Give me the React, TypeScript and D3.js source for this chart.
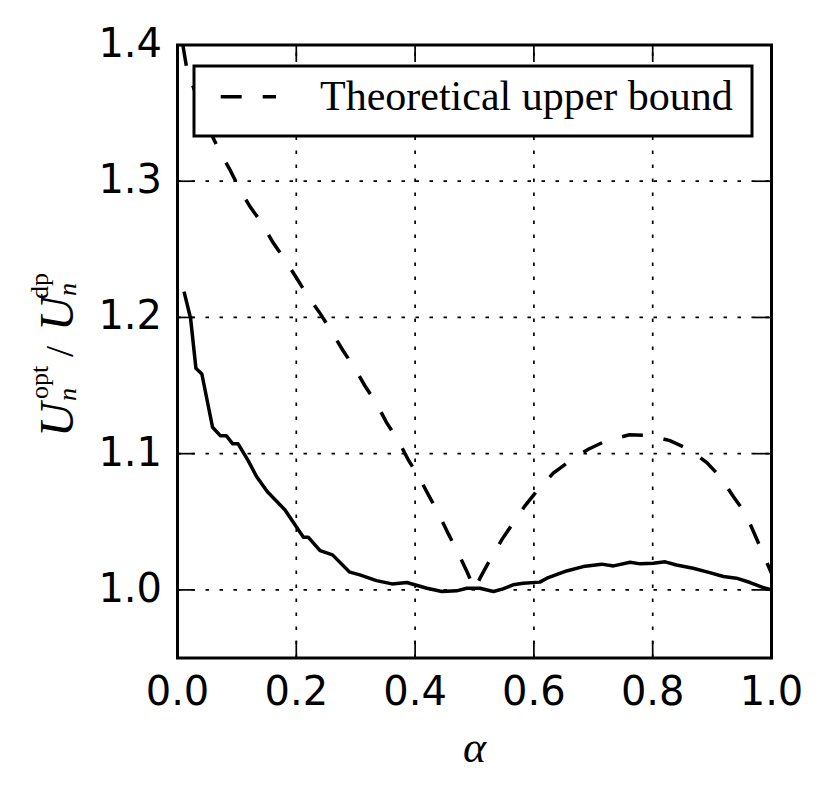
import React from "react";
import * as d3 from "d3";

const W = 832;
const H = 799;

// Measured solid curve: ratio U_opt / U_dp
const solidAlpha = [0.011, 0.022, 0.031, 0.041, 0.059, 0.072, 0.082, 0.093, 0.102, 0.119, 0.133, 0.151, 0.181, 0.212, 0.220, 0.240, 0.261, 0.290, 0.307, 0.335, 0.361, 0.386, 0.420, 0.445, 0.470, 0.487, 0.509, 0.532, 0.548, 0.565, 0.582, 0.610, 0.622, 0.655, 0.683, 0.714, 0.734, 0.762, 0.779, 0.801, 0.821, 0.840, 0.868, 0.896, 0.919, 0.941, 0.964, 0.984, 1.0];
const solidValue = [1.2189, 1.1994, 1.1627, 1.1585, 1.1194, 1.1132, 1.1132, 1.1072, 1.1072, 1.0949, 1.0832, 1.0722, 1.0587, 1.0387, 1.0387, 1.0288, 1.0257, 1.013, 1.011, 1.0068, 1.0044, 1.0054, 1.0012, 0.9988, 0.9993, 1.0012, 1.0012, 0.9988, 1.0007, 1.0037, 1.0049, 1.0057, 1.0086, 1.0139, 1.0171, 1.0189, 1.0176, 1.0203, 1.0191, 1.0196, 1.0206, 1.0183, 1.0159, 1.0127, 1.0098, 1.0086, 1.0054, 1.002, 1.0];

// Theoretical upper bound (dashed)
const boundAlpha = [0.009, 0.0165, 0.0603, 0.0704, 0.0884, 0.104, 0.122, 0.1418, 0.160, 0.181, 0.2007, 0.220, 0.240, 0.2596, 0.278, 0.2976, 0.3157, 0.3354, 0.352, 0.3717, 0.3886, 0.407, 0.424, 0.4407, 0.456, 0.4727, 0.488, 0.5, 0.5093, 0.526, 0.5458, 0.5653, 0.585, 0.6074, 0.6327, 0.661, 0.6916, 0.7226, 0.7606, 0.7943, 0.829, 0.8628, 0.891, 0.9145, 0.9357, 0.9554, 0.9705, 0.985, 1.0];
const boundValue = [1.4, 1.3804, 1.3315, 1.3224, 1.3083, 1.2948, 1.2814, 1.2692, 1.2556, 1.2422, 1.2288, 1.2153, 1.203, 1.1896, 1.1761, 1.1632, 1.1497, 1.1365, 1.1228, 1.1096, 1.0954, 1.0824, 1.0685, 1.055, 1.0411, 1.0269, 1.0127, 1.0005, 1.0086, 1.022, 1.0367, 1.0494, 1.0617, 1.0739, 1.0857, 1.0949, 1.1033, 1.1096, 1.1138, 1.1133, 1.1096, 1.1028, 1.0934, 1.0827, 1.0685, 1.0567, 1.042, 1.0274, 1.0121];

const xTicks = [0.0, 0.2, 0.4, 0.6, 0.8, 1.0];
const yTicks = [1.0, 1.1, 1.2, 1.3, 1.4];
const legendLabel = "Theoretical upper bound";

const L = 177.5, R = 771.5, T = 45, B = 658;

export default function App() {
  const x = d3.scaleLinear().domain([0, 1]).range([L, R]);
  const y = d3.scaleLinear().domain([0.95, 1.4]).range([B, T]);
  const line = d3.line<[number, number]>().x(d => x(d[0])).y(d => y(d[1]));
  const solid = line(solidAlpha.map((a, i) => [a, solidValue[i]]))!;
  const bound = line(boundAlpha.map((a, i) => [a, boundValue[i]]))!;
  const tickLen = 17;
  const serif = "'Liberation Serif', 'Times New Roman', serif";
  const sans = "'DejaVu Sans', sans-serif";

  return (
    <svg width={W} height={H} style={{ position: "absolute", left: 0, top: 0, background: "#fff" }}>
      <defs>
        <clipPath id="plotclip">
          <rect x={L} y={T} width={R - L} height={B - T} />
        </clipPath>
      </defs>
      <rect x={0} y={0} width={W} height={H} fill="#fff" />
      {/* grid */}
      <g stroke="#000" strokeWidth={1.7} strokeDasharray="3.5 10.5" fill="none">
        {xTicks.map(t => (
          <line key={"gx" + t} x1={x(t)} x2={x(t)} y1={B} y2={T} />
        ))}
        {yTicks.map(t => (
          <line key={"gy" + t} x1={L} x2={R} y1={y(t)} y2={y(t)} />
        ))}
      </g>
      {/* data */}
      <g clipPath="url(#plotclip)" fill="none" stroke="#000" strokeWidth={3.5}>
        <path d={bound} strokeDasharray="21 21" />
        <path d={solid} strokeLinejoin="round" />
      </g>
      {/* ticks */}
      <g stroke="#000" strokeWidth={1.7}>
        {xTicks.map(t => (
          <g key={"tx" + t}>
            <line x1={x(t)} x2={x(t)} y1={B} y2={B - tickLen} />
            <line x1={x(t)} x2={x(t)} y1={T} y2={T + tickLen} />
          </g>
        ))}
        {yTicks.map(t => (
          <g key={"ty" + t}>
            <line x1={L} x2={L + tickLen} y1={y(t)} y2={y(t)} />
            <line x1={R} x2={R - tickLen} y1={y(t)} y2={y(t)} />
          </g>
        ))}
      </g>
      {/* spines */}
      <rect x={L} y={T} width={R - L} height={B - T} fill="none" stroke="#000" strokeWidth={3} />
      {/* tick labels */}
      <g fontFamily={sans} fontSize={40} fill="#000">
        {xTicks.map(t => (
          <text key={"lx" + t} x={x(t)} y={705} textAnchor="middle">{t.toFixed(1)}</text>
        ))}
        {yTicks.map(t => (
          <text key={"ly" + t} x={162} y={y(t) + 12} textAnchor="end">{t.toFixed(1)}</text>
        ))}
      </g>
      {/* legend */}
      <g>
        <rect x={194} y={66} width={558} height={70} fill="#fff" stroke="#000" strokeWidth={3} />
        <line x1={220.7} x2={276} y1={96.7} y2={96.7} stroke="#000" strokeWidth={3.5} strokeDasharray="21 21" />
        <text x={320} y={110} fontFamily={serif} fontSize={42} fill="#000">{legendLabel}</text>
      </g>
      {/* x label */}
      <text x={(L + R) / 2} y={762} textAnchor="middle" fontFamily={serif} fontStyle="italic" fontSize={44} fill="#000">α</text>
      {/* y label */}
      <g transform="translate(73, 437) rotate(-90)" fontFamily={serif} fill="#000">
        <text x={0} y={0} fontSize={48} fontStyle="italic">U</text>
        <text x={38} y={-25} fontSize={26}>opt</text>
        <text x={36} y={3} fontSize={26} fontStyle="italic">n</text>
        <text x={80} y={0} fontSize={40}>/</text>
        <text x={106} y={0} fontSize={48} fontStyle="italic">U</text>
        <text x={138} y={-25} fontSize={26}>dp</text>
        <text x={141} y={3} fontSize={26} fontStyle="italic">n</text>
      </g>
    </svg>
  );
}
